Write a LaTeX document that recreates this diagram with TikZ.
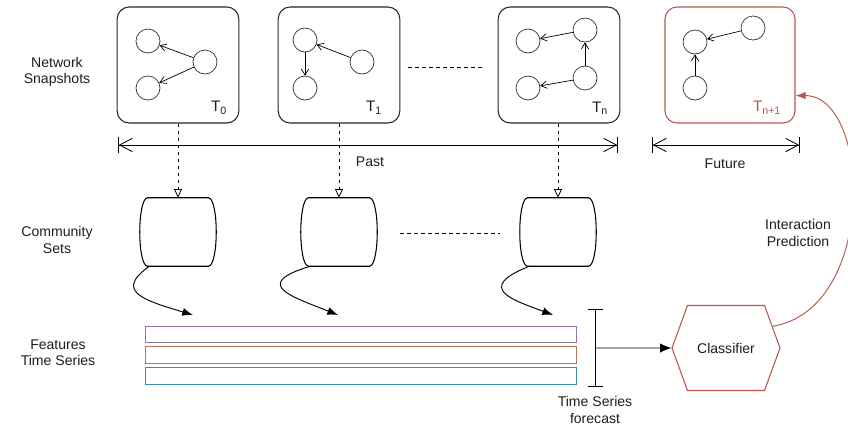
\documentclass[tikz,border=0pt]{standalone}
\usepackage{fontspec}
\setmainfont{Liberation Sans}
\usetikzlibrary{arrows.meta, shapes.symbols, positioning}

\definecolor{boxred}{RGB}{184,84,80}
\definecolor{tspurple}{RGB}{150,115,166}
\definecolor{tsorange}{RGB}{185,120,80}
\definecolor{tsblue}{RGB}{60,140,175}
\definecolor{txt}{RGB}{30,30,30}

\begin{document}
\begin{tikzpicture}[x=0.03cm, y=-0.03cm, font=\fontsize{12}{14}\selectfont, text=txt]
\tikzstyle{snap}=[rectangle, rounded corners=0.36cm, draw=black!85, line width=0.9pt, minimum width=3.65cm, minimum height=3.48cm]
\tikzstyle{q}=[circle, minimum size=0.72cm, inner sep=0pt, draw=black!80, line width=0.6pt]
\tikzstyle{link}=[-{Straight Barb[length=1.8mm,width=2.2mm]}, line width=0.6pt]
\tikzstyle{tlabel}=[font=\fontsize{13}{15}\selectfont]
\tikzstyle{cset}=[minimum width=2.31cm, minimum height=2.04cm, inner sep=0pt]
\tikzstyle{drop}=[-{Triangle[open, length=0.26cm, width=0.24cm]}, dashed, line width=0.7pt]
\tikzstyle{gapline}=[dashed, line width=0.7pt]
\tikzstyle{era}=[{Bar[width=0.48cm] Straight Barb[length=0.38cm,width=0.4cm]}-{Straight Barb[length=0.38cm,width=0.4cm] Bar[width=0.48cm]}, line width=0.7pt]
\tikzstyle{feed}=[-{Latex[length=0.32cm,width=0.24cm]}, line width=0.8pt]
\tikzstyle{series}=[rectangle, minimum width=12.93cm, minimum height=0.5cm, inner sep=0pt, line width=0.7pt]
\tikzstyle{span}=[{Bar[width=0.45cm]}-{Bar[width=0.45cm]}, line width=0.8pt]
\tikzstyle{push}=[-{Latex[length=0.34cm,width=0.28cm]}, line width=0.8pt]
\tikzstyle{predict}=[-{Latex[length=0.3cm,width=0.22cm]}, draw=boxred, line width=0.8pt]
\tikzstyle{side}=[align=center]

\useasboundingbox (0,0) rectangle (848,436);

% snapshots
\node[snap] (snap0) at (178,65) {};
\node[snap] (snap1) at (339,65) {};
\node[snap] (snapn) at (559,65) {};
\node[snap, draw=boxred, minimum width=3.9cm] (snapf) at (730,65) {};

\node[q] (a0) at (148,41) {};
\node[q] (b0) at (148,88) {};
\node[q] (c0) at (205,62) {};
\node[q] (a1) at (305,40) {};
\node[q] (b1) at (305,88) {};
\node[q] (c1) at (362,62) {};
\node[q] (an) at (528,41) {};
\node[q] (bn) at (528,88) {};
\node[q] (cn) at (585,30) {};
\node[q] (dn) at (585,78) {};
\node[q] (af) at (695,42) {};
\node[q] (bf) at (753,28) {};
\node[q] (cf) at (695,88) {};

\path (c0) edge [link] (a0);
\path (c0) edge [link] (b0);
\path (c1) edge [link] (a1);
\path (a1) edge [link] (b1);
\path (cn) edge [link] (an);
\path (dn) edge [link] (cn);
\path (dn) edge [link] (bn);
\path (bf) edge [link] (af);
\path (cf) edge [link] (af);

\node[tlabel] (t0) at (219,108) {T\textsubscript{0}};
\node[tlabel] (t1) at (374,108) {T\textsubscript{1}};
\node[tlabel] (tn) at (600,108) {T\textsubscript{n}};
\node[tlabel, text=boxred] (tf) at (767,108) {T\textsubscript{n+1}};

\coordinate (gap0) at (408,67);
\coordinate (gap1) at (482,67);
\draw[gapline] (gap0) -- (gap1);

% time axis
\coordinate (past0) at (118,145);
\coordinate (past1) at (618,145);
\coordinate (fut0) at (652,145);
\coordinate (fut1) at (800,145);
\draw[era] (past0) -- (past1);
\draw[era] (fut0) -- (fut1);
\node (lpast) at (370,162) {Past};
\node (lfut) at (725,164) {Future};

% community sets
\node[cset] (set0) at (178,232) {};
\node[cset] (set1) at (339,232) {};
\node[cset] (set2) at (558,232) {};
\foreach \s in {set0,set1,set2}
  \draw[line width=0.9pt] ([shift={(8,0)}]\s.north west) -- ([shift={(-8,0)}]\s.north east)
    .. controls ([shift={(2,2)}]\s.north east) and ([shift={(2,-2)}]\s.south east) .. ([shift={(-8,0)}]\s.south east)
    -- ([shift={(8,0)}]\s.south west)
    .. controls ([shift={(-2,-2)}]\s.south west) and ([shift={(-2,2)}]\s.north west) .. cycle;

\path (snap0) edge [drop] (set0);
\path (snap1) edge [drop] (set1);
\path (snapn.south -| set2.north) edge [drop] (set2.north);

\coordinate (gap2) at (400,233);
\coordinate (gap3) at (500,233);
\draw[gapline] (gap2) -- (gap3);

% features
\coordinate (hit0) at (193,315);
\coordinate (hit1) at (338,315);
\coordinate (hit2) at (553,315);
\draw[feed] ([shift={(10,0)}]set0.south west) .. controls +(-35,25) and +(-50,-15) .. (hit0);
\draw[feed] ([shift={(10,0)}]set1.south west) .. controls +(-60,18) and +(-45,-18) .. (hit1);
\draw[feed] ([shift={(10,0)}]set2.south west) .. controls +(-55,22) and +(-40,-15) .. (hit2);

\node[series, draw=tspurple] (ts1) at (361,334.5) {};
\node[series, draw=tsorange] (ts2) at (361,355) {};
\node[series, draw=tsblue] (ts3) at (361,376) {};

% forecast and classifier
\coordinate (fc0) at (595,309);
\coordinate (fc1) at (595,387);
\coordinate (fcm) at (595,348);
\draw[span] (fc0) -- (fc1);

\node[signal, signal to=east and west, signal pointer angle=140, draw=boxred, line width=0.9pt,
      minimum width=3.24cm, minimum height=2.55cm, inner sep=0pt] (clf) at (726,348) {Classifier};
\draw[push] (fcm) -- (clf);
\draw[predict] (clf.25) .. controls +(105,-17) and +(76,0) .. (snapf.-25);

% side labels
\node[side] (lsnap) at (57,72) {Network\\Snapshots};
\node[side] (lcom) at (57,240) {Community\\Sets};
\node[side] (lfeat) at (58,353) {Features\\Time Series};
\node[side] (lfore) at (595,410) {Time Series\\forecast};
\node[side] (lpred) at (798,233) {Interaction\\Prediction};
\end{tikzpicture}
\end{document}
